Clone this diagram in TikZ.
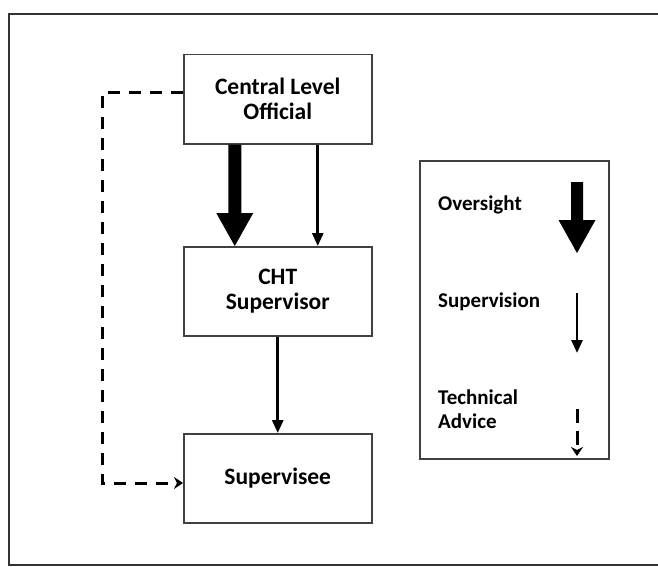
\documentclass[tikz,border=0pt]{standalone}
\usepackage{fontspec}
\setmainfont{Carlito}
\usetikzlibrary{arrows.meta}
\begin{document}
\begin{tikzpicture}[x=1pt,y=-1pt,
  box/.style={draw=black!75,line width=1.5pt,fill=white,minimum width=188pt,anchor=north west,inner sep=0pt,align=center,font=\fontsize{23.5}{25}\selectfont\bfseries},
  lbl/.style={anchor=west,align=left,font=\fontsize{21}{24}\selectfont\bfseries,inner sep=0pt},
  thin/.style={line width=2.8pt,-{Triangle[length=13pt,width=11pt]}},
  dsh/.style={line width=3pt,dash pattern=on 12pt off 9pt,-{Stealth[length=9pt,width=12pt,inset=3pt]}},
  bigarrow/.style={fill=black}]
\useasboundingbox (0,0) rectangle (658,567);
\fill[white] (0,0) rectangle (658,567);
\draw[black!80,line width=1.6pt] (9,14) rectangle (680,565);
% boxes
\node[box,minimum height=89pt] (col) at (183,54) {Central Level\\Official};
\node[box,minimum height=89pt] (cht) at (183,246) {CHT\\Supervisor};
\node[box,minimum height=89pt] (sup) at (183,433) {Supervisee};
% oversight big arrow
\coordinate (o1) at ([xshift=-43pt]col.south);
\coordinate (o2) at ([xshift=-43pt]cht.north);
\fill[bigarrow] ([xshift=-6.5pt]o1) -- ([xshift=-6.5pt,yshift=33pt]o2) -- ([xshift=-18.5pt,yshift=33pt]o2) -- (o2) -- ([xshift=18.5pt,yshift=33pt]o2) -- ([xshift=6.5pt,yshift=33pt]o2) -- ([xshift=6.5pt]o1) -- cycle;
% supervision arrow
\draw[thin] ([xshift=40pt]col.south) -- ([xshift=40pt]cht.north);
\draw[thin] (cht.south) -- (sup.north);
% technical advice dashed
\coordinate (d1) at (102,93);
\coordinate (d2) at (102,483);
\draw[dsh] (col.west |- d1) -- (d1) -- (d2) -- (sup.west |- d2);
% legend
\node[draw=black!75,line width=1.5pt,minimum width=189pt,minimum height=298pt,anchor=north west,inner sep=0pt] (leg) at (419,160) {};
\node[lbl] (lo) at (438,205) {Oversight};
\node[lbl] (ls) at (438,302) {Supervision};
\node[lbl] (lt) at (438,409) {Technical\\Advice};
\coordinate (a1) at (577,182);
\coordinate (a2) at (577,253);
\fill[bigarrow] ([xshift=-6pt]a1) -- ([xshift=-6pt,yshift=33pt]a2) -- ([xshift=-18.5pt,yshift=33pt]a2) -- (a2) -- ([xshift=18.5pt,yshift=33pt]a2) -- ([xshift=6pt,yshift=33pt]a2) -- ([xshift=6pt]a1) -- cycle;
\coordinate (b1) at (577,293);
\coordinate (b2) at (577,353);
\draw[thin] (b1) -- (b2);
\coordinate (c1) at (577,409);
\coordinate (c2) at (577,456);
\draw[dsh,dash pattern=on 14pt off 8pt] (c1) -- (c2);
\end{tikzpicture}
\end{document}
